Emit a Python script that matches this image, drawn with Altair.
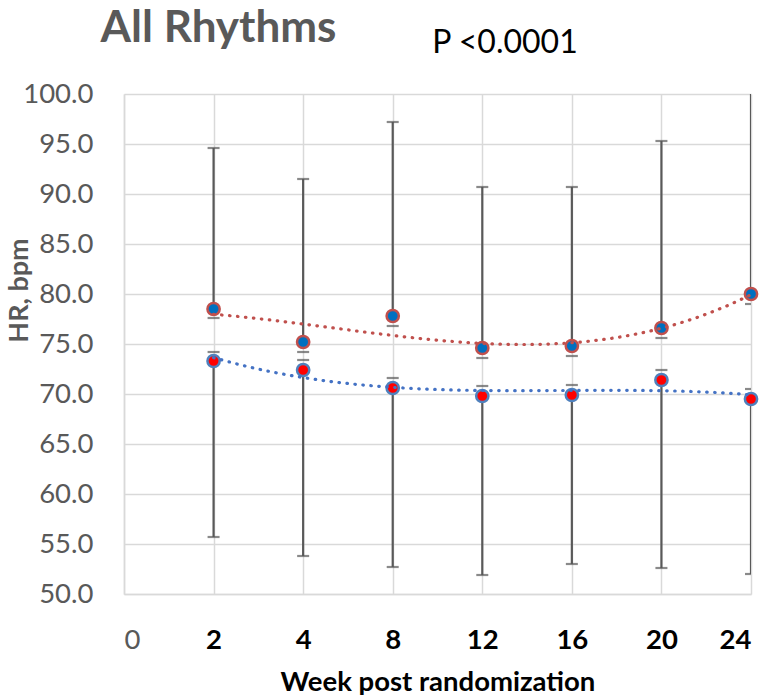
import altair as alt
import pandas as pd

# ---------------- data ----------------
week_labels = ["0", "2", "4", "8", "12", "16", "20", "24"]
week_pos = [1, 2, 3, 4, 5, 6, 7]

upper_mean = [78.5, 75.2, 77.8, 74.6, 74.8, 76.6, 80.0]
upper_high = [94.6, 91.5, 97.2, 90.7, 90.7, 95.3, 102.0]
upper_low = [77.6, 74.2, 76.8, 73.6, 73.8, 75.6, 79.0]

lower_mean = [73.3, 72.4, 70.6, 69.8, 69.9, 71.4, 69.5]
lower_high = [74.2, 73.4, 71.6, 70.8, 70.9, 72.4, 70.5]
lower_low = [55.7, 53.8, 52.7, 51.9, 53.0, 52.6, 52.0]

y_ticks = [50, 55, 60, 65, 70, 75, 80, 85, 90, 95, 100]

title_text = "All Rhythms"
pvalue_text = "P <0.0001"
x_title = "Week post randomization"
y_title = "HR, bpm"

df = pd.DataFrame({
    "pos": week_pos,
    "um": upper_mean, "uh": upper_high, "ul": upper_low,
    "lm": lower_mean, "lh": lower_high, "ll": lower_low,
})

FONT = "Lato"
GRID = "#d9d9d9"
DARK = "#595959"

label_js = "[" + ",".join('"%s"' % s for s in week_labels) + "][datum.value]"

x_axis = alt.Axis(
    values=list(range(len(week_labels))),
    labelExpr=label_js,
    title=x_title,
    grid=True, gridColor=GRID, gridWidth=1.5,
    domainColor=GRID, domainWidth=1.5,
    ticks=False,
    labelFont=FONT, labelFontSize=27.5,
    labelColor={"condition": {"test": "datum.value == 0", "value": DARK}, "value": "black"},
    labelFontWeight={"condition": {"test": "datum.value == 0", "value": "normal"}, "value": "bold"},
    labelPadding=54, labelBaseline="alphabetic",
    titleFont=FONT, titleFontSize=27.5, titleFontWeight="bold", titleColor="black",
    titleY=96, titleBaseline="alphabetic",
)
y_axis = alt.Axis(
    values=y_ticks, format=".1f",
    title=y_title,
    grid=True, gridColor=GRID, gridWidth=1.5,
    domainColor=GRID, domainWidth=1.5,
    ticks=False,
    labelFont=FONT, labelFontSize=27.5, labelColor=DARK, labelPadding=31,
    titleFont=FONT, titleFontSize=27, titleFontWeight="bold", titleColor=DARK,
    titleX=-97, titleY=196, titleAlign="center", titleBaseline="alphabetic", titleAngle=-90,
)

x_scale = alt.Scale(domain=[0, 7], nice=False, zero=False)
y_scale = alt.Scale(domain=[50, 100], nice=False, zero=False)


def X():
    return alt.X("pos:Q", scale=x_scale, axis=x_axis)


def Y(field):
    return alt.Y(field, type="quantitative", scale=y_scale, axis=y_axis)


base = alt.Chart(df)

bar_up = base.mark_rule(color=DARK, strokeWidth=2.2, clip=True).encode(
    x=X(), y=Y("um"), y2="uh")
bar_lo = base.mark_rule(color=DARK, strokeWidth=2.2, clip=True).encode(
    x=X(), y=Y("lm"), y2="ll")
caps = base.transform_fold(["uh", "ul", "lh", "ll"], as_=["k", "v"]).mark_tick(
    orient="horizontal", size=12, thickness=2.2, color=DARK, clip=True
).encode(x=X(), y=Y("v"))

pt_up = base.mark_point(filled=True, shape="circle", size=150, fill="#0070C0",
                        stroke="#C0504D", strokeWidth=2.5, opacity=1).encode(x=X(), y=Y("um"))
pt_lo = base.mark_point(filled=True, shape="circle", size=150, fill="#FF0000",
                        stroke="#4F81BD", strokeWidth=2.5, opacity=1).encode(x=X(), y=Y("lm"))

trend_up = base.transform_regression("pos", "um", method="poly", order=3).mark_line(
    color="#C0504D", strokeWidth=3.2, strokeDash=[0.5, 7.5], strokeCap="round"
).encode(x=X(), y=Y("um"))
trend_lo = base.transform_regression("pos", "lm", method="poly", order=3).mark_line(
    color="#4472C4", strokeWidth=3.2, strokeDash=[0.5, 7.5], strokeCap="round"
).encode(x=X(), y=Y("lm"))

t1 = alt.Chart(pd.DataFrame({"t": [title_text]})).mark_text(
    font=FONT, fontSize=44, fontWeight="bold", color=DARK, baseline="alphabetic", align="center"
).encode(text="t:N", x=alt.value(94.5), y=alt.value(-52))
t2 = alt.Chart(pd.DataFrame({"t": [pvalue_text]})).mark_text(
    font=FONT, fontSize=32, color="black", baseline="alphabetic", align="center"
).encode(text="t:N", x=alt.value(381), y=alt.value(-41))

chart = alt.layer(bar_up, bar_lo, caps, pt_up, pt_lo, trend_up, trend_lo, t1, t2).properties(
    width=627, height=500,
    autosize=alt.AutoSizeParams(type="none"),
    padding={"left": 124, "top": 94, "right": 11, "bottom": 105},
).configure_view(stroke=None)

chart.save("out.html", embed_options={"renderer": "svg", "actions": False})
